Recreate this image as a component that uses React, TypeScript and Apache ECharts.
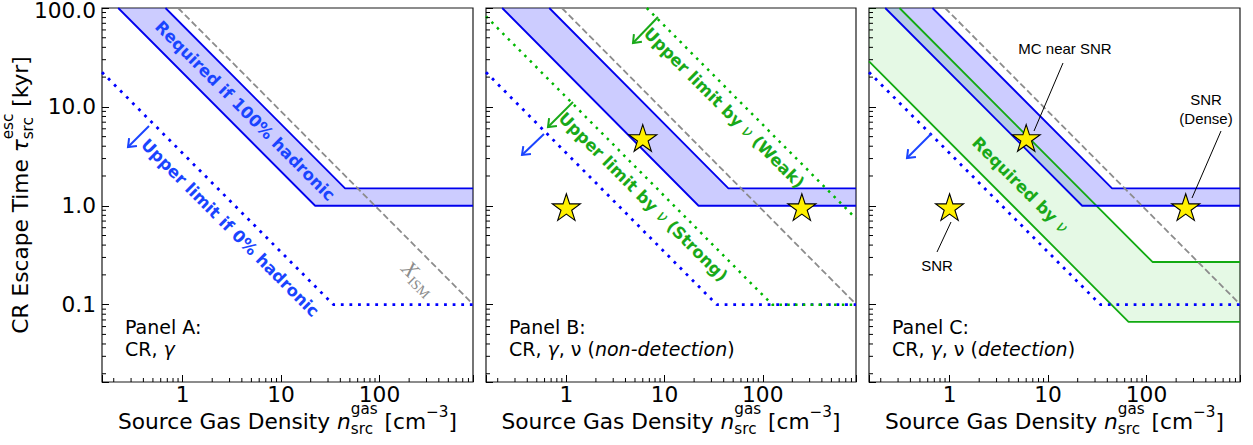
import React, { useEffect, useRef } from "react";
import * as echarts from "echarts";

const W = 1253;
const H = 445;
const FONT = "'DejaVu Sans', sans-serif";
const SANS2 = "'Liberation Sans', Arial, sans-serif";
const SERIF = "'Liberation Serif', 'DejaVu Serif', serif";

// ---------- axis ranges and ticks ----------
const X_RANGE = [0.152, 890];
const Y_RANGE = [0.0165, 100];
const X_MINOR_TICKS = [0.2, 0.3, 0.4, 0.5, 0.6, 0.7, 0.8, 0.9, 2, 3, 4, 5, 6, 7, 8, 9, 20, 30, 40, 50, 60, 70, 80, 90, 200, 300, 400, 500, 600, 700, 800];
const Y_MINOR_TICKS = [0.02, 0.03, 0.04, 0.05, 0.06, 0.07, 0.08, 0.09, 0.2, 0.3, 0.4, 0.5, 0.6, 0.7, 0.8, 0.9, 2, 3, 4, 5, 6, 7, 8, 9, 20, 30, 40, 50, 60, 70, 80, 90];

// ---------- curves (n_gas [cm^-3], tau [kyr]) ----------
const HADRONIC_UPPER = [[0.67, 100], [44.7, 1.5], [890, 1.5]];
const HADRONIC_LOWER = [[0.222, 100], [22.2, 1], [890, 1]];
const ISM_LINE = [[0.9, 100], [890, 0.101]];
const ZERO_HADRONIC_LIMIT = [[0.152, 22.4], [34, 0.1], [890, 0.1]];
const NU_WEAK_LIMIT = [[6.6, 100], [890, 0.742]];
const NU_STRONG_LIMIT = [[0.152, 82.2], [125, 0.1], [890, 0.1]];
const NU_DET_UPPER = [[0.31, 100], [115, 0.27], [890, 0.27]];
const NU_DET_LOWER = [[0.152, 28.9], [65.7, 0.067], [890, 0.067]];
const NU_DET_CORNER = [[0.152, 100]];
const SOURCES = [[1, 1], [6, 5], [250, 1]];

const PANEL_NAMES = ["Panel A:", "Panel B:", "Panel C:"];
const PANEL_SUBS = [
  "{n|CR, }{i|γ}",
  "{n|CR, }{i|γ}{n|, ν (}{i|non-detection}{n|)}",
  "{n|CR, }{i|γ}{n|, ν (}{i|detection}{n|)}",
];

// ---------- layout ----------
const GRIDS = [
  { left: 102, width: 371 },
  { left: 486, width: 370 },
  { left: 869, width: 371 },
];
const GRID_TOP = 8;
const GRID_H = 374;
const TITLE_SIZE = 21.7;
const SCRIPT_SIZE = 15.2;

const BLUE_LINE = "#0000ee";
const BLUE_DOT = "#0000ff";
const BLUE_FILL = "rgba(0,0,255,0.2)";
const BLUE_TEXT = "#1a44ff";
const GREEN_DOT = "#00b800";
const GREEN_LINE = "#11aa11";
const GREEN_FILL = "rgba(0,200,0,0.1)";
const GREEN_TEXT = "#19a919";
const GRAY = "#8c8c8c";

const STAR =
  "path://M50 0 L61.23 34.55 L97.55 34.55 L68.16 55.9 L79.39 90.45 L50 69.1 L20.61 90.45 L31.84 55.9 L2.45 34.55 L38.77 34.55 Z";

let mctx: CanvasRenderingContext2D | null = null;
function measure(t: string, size: number, italic = false, family = FONT, weight = "normal") {
  if (!mctx) mctx = document.createElement("canvas").getContext("2d");
  if (!mctx) return t.length * size * 0.6;
  mctx.font = `${italic ? "italic " : ""}${weight} ${size}px ${family}`;
  return mctx.measureText(t).width;
}

type Run = { t: string; size: number; italic?: boolean; dy?: number; family?: string; lh?: number };
type Piece = Run | { sup: Run; sub: Run };

function mathLabel(pieces: Piece[], cx: number, cy: number, rotation: number, color = "#000") {
  const placed: { r: Run; x: number }[] = [];
  let x = 0;
  const w = (r: Run) => measure(r.t, r.size, !!r.italic, r.family || FONT);
  for (const p of pieces) {
    if ("sup" in p) {
      placed.push({ r: p.sup, x }, { r: p.sub, x });
      x += Math.max(w(p.sup), w(p.sub));
    } else {
      placed.push({ r: p, x });
      x += w(p);
    }
  }
  const half = x / 2;
  return {
    type: "group",
    x: cx,
    y: cy,
    rotation,
    z: 50,
    children: placed.map(({ r, x: px }) => ({
      type: "text",
      x: px - half,
      y: r.dy || 0,
      z: 50,
      style: {
        text: r.t,
        fontSize: r.size,
        lineHeight: r.lh || r.size,
        fontFamily: r.family || FONT,
        fontStyle: r.italic ? "italic" : "normal",
        fill: color,
        align: "left",
        verticalAlign: "middle",
      },
    })),
  };
}

function rotText(text: string, cx: number, cy: number, color: string) {
  const fs = 16.5;
  return {
    type: "text",
    x: cx,
    y: cy,
    rotation: -Math.PI / 4,
    z: 50,
    style: {
      text,
      fill: color,
      align: "center",
      verticalAlign: "middle",
      fontSize: fs,
      fontWeight: "bold",
      fontFamily: FONT,
      rich: {
        b: { fontSize: fs, fontWeight: "bold", fontFamily: FONT, fill: color, color },
        i: { fontSize: fs, fontStyle: "italic", fontFamily: FONT, fill: color, color },
      },
    },
  };
}

function arrow(x1: number, y1: number, x2: number, y2: number, color: string) {
  const dx = x2 - x1;
  const dy = y2 - y1;
  const len = Math.hypot(dx, dy);
  const ux = dx / len;
  const uy = dy / len;
  const L = 9;
  const a = (38 * Math.PI) / 180;
  const rot = (ang: number) => [ux * Math.cos(ang) - uy * Math.sin(ang), ux * Math.sin(ang) + uy * Math.cos(ang)];
  const r1 = rot(a);
  const r2 = rot(-a);
  return [
    { type: "line", z: 50, shape: { x1, y1, x2, y2 }, style: { stroke: color, lineWidth: 2 } },
    {
      type: "polyline",
      z: 50,
      shape: { points: [[x2 - L * r1[0], y2 - L * r1[1]], [x2, y2], [x2 - L * r2[0], y2 - L * r2[1]]] },
      style: { stroke: color, lineWidth: 2, fill: null },
    },
  ];
}

function lineSeries(g: number, data: number[][], color: string, width: number, type: any, z = 3) {
  return {
    type: "line",
    xAxisIndex: g,
    yAxisIndex: g,
    data,
    showSymbol: false,
    symbol: "none",
    silent: true,
    z,
    lineStyle: { color, width, type, cap: "butt" },
  };
}

function polySeries(g: number, pts: number[][], fill: string, z: number) {
  return {
    type: "custom",
    xAxisIndex: g,
    yAxisIndex: g,
    silent: true,
    z,
    data: pts,
    encode: { x: 0, y: 1 },
    clip: true,
    renderItem: (params: any, api: any) => {
      if (params.dataIndex !== 0) return null;
      return { type: "polygon", shape: { points: pts.map((p) => api.coord(p)) }, style: { fill } };
    },
  };
}

function minorTicks(g: number) {
  return [
    {
      type: "custom",
      xAxisIndex: g,
      yAxisIndex: g,
      silent: true,
      z: 10,
      clip: false,
      data: X_MINOR_TICKS.map((v) => [v, Y_RANGE[0]]),
      encode: { x: 0, y: 1 },
      renderItem: (_p: any, api: any) => {
        const c = api.coord([api.value(0), api.value(1)]);
        return { type: "line", shape: { x1: c[0], y1: c[1], x2: c[0], y2: c[1] - 4 }, style: { stroke: "#000", lineWidth: 1 } };
      },
    },
    {
      type: "custom",
      xAxisIndex: g,
      yAxisIndex: g,
      silent: true,
      z: 10,
      clip: false,
      data: Y_MINOR_TICKS.map((v) => [X_RANGE[0], v]),
      encode: { x: 0, y: 1 },
      renderItem: (_p: any, api: any) => {
        const c = api.coord([api.value(0), api.value(1)]);
        return { type: "line", shape: { x1: c[0], y1: c[1], x2: c[0] + 4, y2: c[1] }, style: { stroke: "#000", lineWidth: 1 } };
      },
    },
  ];
}

const isPow10 = (v: number) => Math.abs(Math.log10(v) - Math.round(Math.log10(v))) < 1e-6;

function buildOption() {
  const grid = GRIDS.map((g) => ({
    left: g.left,
    top: GRID_TOP,
    width: g.width,
    height: GRID_H,
    show: true,
    borderColor: "#1a1a1a",
    borderWidth: 1.2,
    backgroundColor: "transparent",
    containLabel: false,
    outerBoundsMode: "none",
  }));
  const xAxis = GRIDS.map((_, i) => ({
    type: "log",
    logBase: 10,
    gridIndex: i,
    min: X_RANGE[0],
    max: X_RANGE[1],
    axisLine: { show: false },
    splitLine: { show: false },
    minorTick: { show: false },
    axisTick: { show: true, inside: true, length: 7, lineStyle: { color: "#000", width: 1 } },
    axisLabel: {
      show: true,
      interval: 0,
      margin: 5,
      color: "#000",
      fontSize: TITLE_SIZE,
      lineHeight: 14,
      fontFamily: FONT,
      formatter: (v: number) => (isPow10(v) ? String(Math.round(v)) : ""),
    },
  }));
  const yAxis = GRIDS.map((_, i) => ({
    type: "log",
    logBase: 10,
    gridIndex: i,
    min: Y_RANGE[0],
    max: Y_RANGE[1],
    axisLine: { show: false },
    splitLine: { show: false },
    minorTick: { show: false },
    axisTick: { show: true, inside: true, length: 7, lineStyle: { color: "#000", width: 1 } },
    axisLabel: {
      show: i === 0,
      interval: 0,
      margin: 6,
      color: "#000",
      fontSize: TITLE_SIZE,
      lineHeight: 12,
      fontFamily: FONT,
      formatter: (v: number) => {
        if (!isPow10(v)) return "";
        const s = v.toFixed(1);
        return Math.abs(v - Y_RANGE[1]) < 1e-6 ? `{top|${s}}` : s;
      },
      rich: {
        top: { fontSize: TITLE_SIZE, fontFamily: FONT, color: "#000", lineHeight: 12, padding: [5, 0, 0, 0] },
      },
    },
  }));

  const hadronicBand = [...HADRONIC_UPPER, ...HADRONIC_LOWER.slice().reverse()];
  const nuBand = [...NU_DET_CORNER, ...NU_DET_UPPER, ...NU_DET_LOWER.slice().reverse()];
  const BLUE_DOTS = [2.8, 5.8];
  const GREEN_DOTS = [2.5, 5.3];
  const DASH = [6.5, 3.2];

  const series: any[] = [];
  for (let g = 0; g < 3; g++) {
    series.push(polySeries(g, hadronicBand, BLUE_FILL, 1));
    if (g === 2) {
      series.push(polySeries(g, nuBand, GREEN_FILL, 1));
      series.push(lineSeries(g, NU_DET_UPPER, GREEN_LINE, 1.8, "solid", 3));
      series.push(lineSeries(g, NU_DET_LOWER, GREEN_LINE, 1.8, "solid", 3));
    }
    series.push(lineSeries(g, HADRONIC_UPPER, BLUE_LINE, 1.8, "solid", 3));
    series.push(lineSeries(g, HADRONIC_LOWER, BLUE_LINE, 1.8, "solid", 3));
    series.push(lineSeries(g, ISM_LINE, GRAY, 1.8, DASH, 3));
    series.push(lineSeries(g, ZERO_HADRONIC_LIMIT, BLUE_DOT, 2.8, BLUE_DOTS, 4));
    if (g === 1) {
      series.push(lineSeries(g, NU_WEAK_LIMIT, GREEN_DOT, 2.5, GREEN_DOTS, 4));
      series.push(lineSeries(g, NU_STRONG_LIMIT, GREEN_DOT, 2.5, GREEN_DOTS, 4));
    }
    if (g > 0) {
      series.push({
        type: "scatter",
        xAxisIndex: g,
        yAxisIndex: g,
        data: SOURCES,
        symbol: STAR,
        symbolSize: 28,
        symbolKeepAspect: true,
        symbolOffset: [0, 1.3],
        silent: true,
        z: 6,
        itemStyle: { color: "#fff000", borderColor: "#000", borderWidth: 1.1, opacity: 1 },
      });
    }
    series.push(...minorTicks(g));
  }

  const graphic: any[] = [];
  // axis titles
  const xTitle: Piece[] = [
    { t: "Source Gas Density ", size: TITLE_SIZE },
    { t: "n", size: TITLE_SIZE, italic: true },
    { sup: { t: "gas", size: SCRIPT_SIZE, dy: -12, lh: 11 }, sub: { t: "src", size: SCRIPT_SIZE, dy: 8, lh: 11 } },
    { t: " [cm", size: TITLE_SIZE },
    { t: "−3", size: SCRIPT_SIZE, dy: -9.5, lh: 11 },
    { t: "]", size: TITLE_SIZE },
  ];
  GRIDS.forEach((g) => graphic.push(mathLabel(xTitle, g.left + g.width / 2, 421, 0)));
  const yTitle: Piece[] = [
    { t: "CR Escape Time ", size: TITLE_SIZE },
    { t: "τ", size: TITLE_SIZE, italic: true },
    { sup: { t: "esc", size: SCRIPT_SIZE, dy: -12, lh: 11 }, sub: { t: "src", size: SCRIPT_SIZE, dy: 8, lh: 11 } },
    { t: " [kyr]", size: TITLE_SIZE },
  ];
  graphic.push(mathLabel(yTitle, 20, 195, Math.PI / 2));

  // panel labels
  GRIDS.forEach((g, i) => {
    graphic.push({
      type: "text",
      x: g.left + 23,
      y: 327,
      z: 50,
      style: { text: PANEL_NAMES[i], fontSize: 19, fontFamily: FONT, fill: "#000", align: "left", verticalAlign: "middle" },
    });
    graphic.push({
      type: "text",
      x: g.left + 23,
      y: 349,
      z: 50,
      style: {
        text: PANEL_SUBS[i],
        fill: "#000",
        align: "left",
        verticalAlign: "middle",
        fontSize: 19,
        fontFamily: FONT,
        rich: {
          n: { fontSize: 19, fontFamily: FONT, fill: "#000", color: "#000" },
          i: { fontSize: 19, fontFamily: FONT, fontStyle: "italic", fill: "#000", color: "#000" },
        },
      },
    });
  });

  // in-plot labels
  graphic.push(rotText("{b|Required if 100% hadronic}", 245, 111, BLUE_TEXT));
  graphic.push(rotText("{b|Upper limit if 0% hadronic}", 230, 228, BLUE_TEXT));
  graphic.push(
    mathLabel(
      [
        { t: "X", size: 22, italic: true, family: SERIF },
        { t: "ISM", size: 14, dy: 7, family: SERIF },
      ],
      419,
      278,
      -Math.PI / 4,
      GRAY
    )
  );
  graphic.push(rotText("{b|Upper limit by }{i|ν}{b| (Weak)}", 724, 108, GREEN_TEXT));
  graphic.push(rotText("{b|Upper limit by }{i|ν}{b| (Strong)}", 643, 197, GREEN_TEXT));
  graphic.push(rotText("{b|Required by }{i|ν}", 1020, 185, GREEN_TEXT));

  // arrows
  graphic.push(...arrow(149, 126, 128, 147, BLUE_TEXT));
  graphic.push(...arrow(658, 17, 633, 43, GREEN_TEXT));
  graphic.push(...arrow(573, 102, 548, 127, GREEN_TEXT));
  graphic.push(...arrow(544, 134, 522, 155, BLUE_TEXT));
  graphic.push(...arrow(931, 134, 907, 158, BLUE_TEXT));

  // annotations
  const ann = (text: string, x: number, y: number) => ({
    type: "text",
    x,
    y,
    z: 50,
    style: { text, fontSize: 15, fontFamily: SANS2, fill: "#000", align: "center", verticalAlign: "middle" },
  });
  const annLine = (x1: number, y1: number, x2: number, y2: number) => ({
    type: "line",
    z: 50,
    shape: { x1, y1, x2, y2 },
    style: { stroke: "#000", lineWidth: 1 },
  });
  graphic.push(ann("MC near SNR", 1065, 48));
  graphic.push(annLine(1063, 63, 1034, 131));
  graphic.push(ann("SNR", 1206, 99));
  graphic.push(ann("(Dense)", 1206, 118));
  graphic.push(annLine(1221, 131, 1192, 198));
  graphic.push(ann("SNR", 937, 265));
  graphic.push(annLine(951, 222, 937, 252));

  return {
    animation: false,
    backgroundColor: "#fff",
    grid,
    xAxis,
    yAxis,
    series,
    graphic,
  };
}

export default function App() {
  const ref = useRef<HTMLDivElement>(null);
  useEffect(() => {
    if (!ref.current) return;
    const chart = echarts.init(ref.current, null, { renderer: "svg" });
    chart.setOption(buildOption() as any);
    return () => chart.dispose();
  }, []);
  return (
    <div
      ref={ref}
      style={{ position: "absolute", left: 0, top: 0, width: W, height: H, background: "#fff" }}
    />
  );
}
